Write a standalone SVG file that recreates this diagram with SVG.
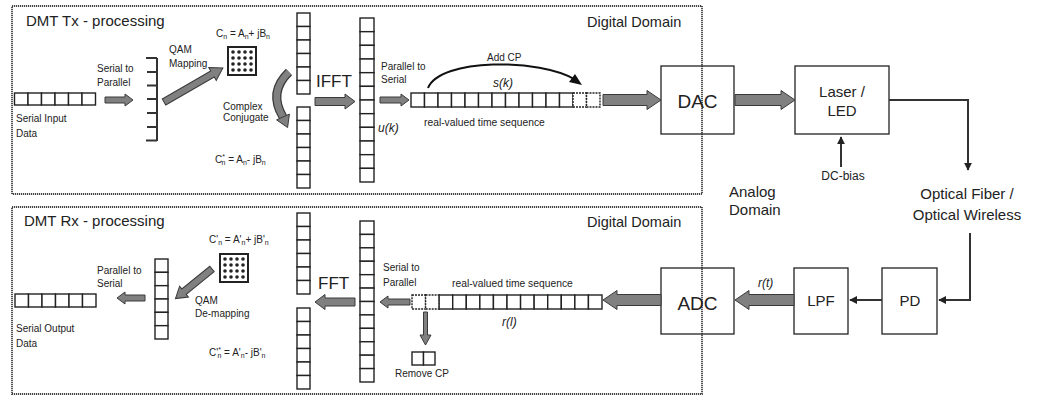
<svg xmlns="http://www.w3.org/2000/svg" xmlns:xlink="http://www.w3.org/1999/xlink" width="1039" height="396" viewBox="0 0 1039 396">
<style>
text{font-family:"Liberation Sans",Arial,sans-serif;fill:#222}
.t15{font-size:15px}
.t14{font-size:14.5px}
.s{font-size:10px}
.f{font-size:10px}
.it{font-size:12px;font-style:italic}
.big{font-size:19px}
.frame{fill:none;stroke:#444;stroke-width:1.8;stroke-dasharray:1.2 0.8}
.box{fill:none;stroke:#222;stroke-width:1.3}
.cell{fill:#fff;stroke:#222;stroke-width:1.4}
.dcell{fill:#fff;stroke:#222;stroke-width:1.4;stroke-dasharray:2 1}
.blk{fill:#808080;stroke:#3a3a3a;stroke-width:1}
.ln{fill:none;stroke:#333;stroke-width:2}
</style>
<defs>
<marker id="ah" viewBox="0 0 10 10" refX="9" refY="5" markerWidth="4" markerHeight="4" orient="auto" markerUnits="strokeWidth">
<path d="M0,0 L10,5 L0,10 z" fill="#222"/>
</marker>
<g id="const">
<rect x="0" y="0" width="28" height="28" fill="#fff" stroke="#222" stroke-width="2"/>
<g fill="#222">
<circle cx="5" cy="5" r="1.8"/><circle cx="11" cy="5" r="1.8"/><circle cx="17" cy="5" r="1.8"/><circle cx="23" cy="5" r="1.8"/>
<circle cx="5" cy="11" r="1.8"/><circle cx="11" cy="11" r="1.8"/><circle cx="17" cy="11" r="1.8"/><circle cx="23" cy="11" r="1.8"/>
<circle cx="5" cy="17" r="1.8"/><circle cx="11" cy="17" r="1.8"/><circle cx="17" cy="17" r="1.8"/><circle cx="23" cy="17" r="1.8"/>
<circle cx="5" cy="23" r="1.8"/><circle cx="11" cy="23" r="1.8"/><circle cx="17" cy="23" r="1.8"/><circle cx="23" cy="23" r="1.8"/>
</g>
</g>
</defs>

<!-- Frames -->
<g id="tx-frame">
<rect class="frame" x="12" y="6" width="690" height="188"/>
<text class="t15" x="26" y="26">DMT Tx - processing</text>
<text class="t14" x="587" y="27">Digital Domain</text>
</g>
<g id="rx-frame">
<rect class="frame" x="12" y="207" width="690" height="187"/>
<text class="t15" x="24" y="226">DMT Rx - processing</text>
<text class="t14" x="587" y="227">Digital Domain</text>
</g>

<!-- TX chain -->
<g id="serial-input">
<rect class="cell" x="14.5" y="93" width="13.5" height="12"/>
<rect class="cell" x="28" y="93" width="13.5" height="12"/>
<rect class="cell" x="41.5" y="93" width="13.5" height="12"/>
<rect class="cell" x="55" y="93" width="13.5" height="12"/>
<rect class="cell" x="68.5" y="93" width="13.5" height="12"/>
<rect class="cell" x="82" y="93" width="13.5" height="12"/>
<text class="s" x="16" y="122">Serial Input</text>
<text class="s" x="16" y="137">Data</text>
</g>
<g id="sp-bracket">
<path class="ln" d="M157,58 V141 M146,58 H157 M147,72 H157 M147,85.5 H157 M147,99 H157 M147,113 H157 M147,127 H157 M146,140.5 H157" stroke-width="1.6"/>
<text class="s" x="97" y="72">Serial to</text>
<text class="s" x="97" y="86">Parallel</text>
</g>
<g id="qam-map">
<use xlink:href="#const" x="228" y="47"/>
<text class="s" x="169" y="53">QAM</text>
<text class="s" x="169" y="67">Mapping</text>
<text class="f" x="216" y="37">C<tspan font-size="7" dy="2">n</tspan><tspan dy="-2"> = A</tspan><tspan font-size="7" dy="2">n</tspan><tspan dy="-2">+ jB</tspan><tspan font-size="7" dy="2">n</tspan></text>
</g>
<g id="tx-cols">
<rect class="cell" x="297" y="13" width="13" height="13.5"/>
<rect class="cell" x="297" y="26.5" width="13" height="13.5"/>
<rect class="cell" x="297" y="40" width="13" height="13.5"/>
<rect class="cell" x="297" y="53.5" width="13" height="13.5"/>
<rect class="cell" x="297" y="67" width="13" height="13.5"/>
<rect class="cell" x="297" y="80.5" width="13" height="13.5"/>
<rect class="cell" x="297" y="107" width="13" height="13.5"/>
<rect class="cell" x="297" y="120.5" width="13" height="13.5"/>
<rect class="cell" x="297" y="134" width="13" height="13.5"/>
<rect class="cell" x="297" y="147.5" width="13" height="13.5"/>
<rect class="cell" x="297" y="161" width="13" height="13.5"/>
<rect class="cell" x="297" y="174.5" width="13" height="13.5"/>
<text class="s" x="223" y="110">Complex</text>
<text class="s" x="223" y="121">Conjugate</text>
<text class="f" x="215" y="163">C<tspan font-size="7" dy="-4">*</tspan><tspan font-size="7" dx="-3.5" dy="6">n</tspan><tspan dy="-2"> = A</tspan><tspan font-size="7" dy="2">n</tspan><tspan dy="-2">- jB</tspan><tspan font-size="7" dy="2">n</tspan></text>
</g>
<g id="ifft">
<text x="316" y="87" style="font-size:17px">IFFT</text>
<rect class="cell" x="360" y="18" width="14" height="13.67"/>
<rect class="cell" x="360" y="31.67" width="14" height="13.67"/>
<rect class="cell" x="360" y="45.33" width="14" height="13.67"/>
<rect class="cell" x="360" y="59" width="14" height="13.67"/>
<rect class="cell" x="360" y="72.67" width="14" height="13.67"/>
<rect class="cell" x="360" y="86.33" width="14" height="13.67"/>
<rect class="cell" x="360" y="100" width="14" height="13.67"/>
<rect class="cell" x="360" y="113.67" width="14" height="13.67"/>
<rect class="cell" x="360" y="127.33" width="14" height="13.67"/>
<rect class="cell" x="360" y="141" width="14" height="13.67"/>
<rect class="cell" x="360" y="154.67" width="14" height="13.67"/>
<rect class="cell" x="360" y="168.33" width="14" height="13.67"/>
<text class="s" x="381" y="70">Parallel to</text>
<text class="s" x="381" y="83">Serial</text>
<text class="it" x="378" y="132">u(k)</text>
</g>
<g id="tx-seq">
<rect class="cell" x="411" y="93" width="13.5" height="14"/>
<rect class="cell" x="424.5" y="93" width="13.5" height="14"/>
<rect class="cell" x="438" y="93" width="13.5" height="14"/>
<rect class="cell" x="451.5" y="93" width="13.5" height="14"/>
<rect class="cell" x="465" y="93" width="13.5" height="14"/>
<rect class="cell" x="478.5" y="93" width="13.5" height="14"/>
<rect class="cell" x="492" y="93" width="13.5" height="14"/>
<rect class="cell" x="505.5" y="93" width="13.5" height="14"/>
<rect class="cell" x="519" y="93" width="13.5" height="14"/>
<rect class="cell" x="532.5" y="93" width="13.5" height="14"/>
<rect class="cell" x="546" y="93" width="13.5" height="14"/>
<rect class="cell" x="559.5" y="93" width="13.5" height="14"/>
<rect class="dcell" x="573" y="93" width="13.5" height="14"/>
<rect class="dcell" x="586.5" y="93" width="13.5" height="14"/>
<text class="s" x="487" y="61">Add CP</text>
<text class="it" x="493" y="87">s(k)</text>
<text x="424" y="126" style="font-size:10.3px">real-valued time sequence</text>
</g>
<g id="dac">
<rect class="box" x="661" y="66" width="73" height="68"/>
<text class="big" x="697.5" y="108" text-anchor="middle">DAC</text>
</g>
<g id="laser">
<rect class="box" x="795" y="66" width="94" height="68"/>
<text class="t15" x="842" y="97" text-anchor="middle">Laser /</text>
<text class="t15" x="842" y="116" text-anchor="middle">LED</text>
</g>
<g id="dc-bias">
<text x="843" y="180" text-anchor="middle" style="font-size:12px">DC-bias</text>
</g>
<g id="analog-label">
<text class="t15" x="729" y="197">Analog</text>
<text class="t15" x="729" y="215">Domain</text>
</g>
<g id="channel">
<text class="t15" x="967" y="199" text-anchor="middle">Optical Fiber /</text>
<text class="t15" x="967" y="220" text-anchor="middle">Optical Wireless</text>
</g>

<!-- RX chain -->
<g id="pd">
<rect class="box" x="882" y="268" width="55" height="66"/>
<text class="t15" x="910" y="306" text-anchor="middle">PD</text>
</g>
<g id="lpf">
<rect class="box" x="794" y="268" width="54" height="66"/>
<text class="t15" x="821" y="306" text-anchor="middle">LPF</text>
</g>
<g id="adc">
<rect class="box" x="661" y="268" width="73" height="66"/>
<text class="big" x="697.5" y="310" text-anchor="middle">ADC</text>
<text class="it" x="758" y="287">r(t)</text>
</g>
<g id="rx-seq">
<rect class="dcell" x="412" y="295" width="13.57" height="14"/>
<rect class="dcell" x="425.57" y="295" width="13.57" height="14"/>
<rect class="cell" x="439.14" y="295" width="13.57" height="14"/>
<rect class="cell" x="452.71" y="295" width="13.57" height="14"/>
<rect class="cell" x="466.29" y="295" width="13.57" height="14"/>
<rect class="cell" x="479.86" y="295" width="13.57" height="14"/>
<rect class="cell" x="493.43" y="295" width="13.57" height="14"/>
<rect class="cell" x="507" y="295" width="13.57" height="14"/>
<rect class="cell" x="520.57" y="295" width="13.57" height="14"/>
<rect class="cell" x="534.14" y="295" width="13.57" height="14"/>
<rect class="cell" x="547.71" y="295" width="13.57" height="14"/>
<rect class="cell" x="561.29" y="295" width="13.57" height="14"/>
<rect class="cell" x="574.86" y="295" width="13.57" height="14"/>
<rect class="cell" x="588.43" y="295" width="13.57" height="14"/>
<text x="452" y="287" style="font-size:10.3px">real-valued time sequence</text>
<text class="it" x="502" y="326">r(l)</text>
</g>
<g id="remove-cp">
<rect class="cell" x="412" y="352" width="11.5" height="13"/>
<rect class="cell" x="423.5" y="352" width="11.5" height="13"/>
<text class="s" x="395" y="377">Remove CP</text>
</g>
<g id="fft">
<rect class="cell" x="360" y="221" width="14" height="13.42"/>
<rect class="cell" x="360" y="234.42" width="14" height="13.42"/>
<rect class="cell" x="360" y="247.83" width="14" height="13.42"/>
<rect class="cell" x="360" y="261.25" width="14" height="13.42"/>
<rect class="cell" x="360" y="274.67" width="14" height="13.42"/>
<rect class="cell" x="360" y="288.08" width="14" height="13.42"/>
<rect class="cell" x="360" y="301.5" width="14" height="13.42"/>
<rect class="cell" x="360" y="314.92" width="14" height="13.42"/>
<rect class="cell" x="360" y="328.33" width="14" height="13.42"/>
<rect class="cell" x="360" y="341.75" width="14" height="13.42"/>
<rect class="cell" x="360" y="355.17" width="14" height="13.42"/>
<rect class="cell" x="360" y="368.58" width="14" height="13.42"/>
<text class="s" x="383" y="271">Serial to</text>
<text class="s" x="383" y="286">Parallel</text>
<text x="318" y="289" style="font-size:17px">FFT</text>
</g>
<g id="rx-cols">
<rect class="cell" x="297" y="213" width="13" height="13.5"/>
<rect class="cell" x="297" y="226.5" width="13" height="13.5"/>
<rect class="cell" x="297" y="240" width="13" height="13.5"/>
<rect class="cell" x="297" y="253.5" width="13" height="13.5"/>
<rect class="cell" x="297" y="267" width="13" height="13.5"/>
<rect class="cell" x="297" y="280.5" width="13" height="13.5"/>
<rect class="cell" x="297" y="308" width="13" height="13.5"/>
<rect class="cell" x="297" y="321.5" width="13" height="13.5"/>
<rect class="cell" x="297" y="335" width="13" height="13.5"/>
<rect class="cell" x="297" y="348.5" width="13" height="13.5"/>
<rect class="cell" x="297" y="362" width="13" height="13.5"/>
<rect class="cell" x="297" y="375.5" width="13" height="13.5"/>
<text class="f" x="209" y="243">C'<tspan font-size="7" dy="2">n</tspan><tspan dy="-2"> = A'</tspan><tspan font-size="7" dy="2">n</tspan><tspan dy="-2">+ jB'</tspan><tspan font-size="7" dy="2">n</tspan></text>
<text class="f" x="209" y="356">C'<tspan font-size="7" dy="-4">*</tspan><tspan font-size="7" dx="-3.5" dy="6">n</tspan><tspan dy="-2"> = A'</tspan><tspan font-size="7" dy="2">n</tspan><tspan dy="-2">- jB'</tspan><tspan font-size="7" dy="2">n</tspan></text>
</g>
<g id="qam-demap">
<use xlink:href="#const" x="220" y="254"/>
<text class="s" x="195" y="304">QAM</text>
<text class="s" x="195" y="317">De-mapping</text>
</g>
<g id="rx-ps">
<rect class="cell" x="155" y="259" width="13" height="13.33"/>
<rect class="cell" x="155" y="272.33" width="13" height="13.33"/>
<rect class="cell" x="155" y="285.67" width="13" height="13.33"/>
<rect class="cell" x="155" y="299" width="13" height="13.33"/>
<rect class="cell" x="155" y="312.33" width="13" height="13.33"/>
<rect class="cell" x="155" y="325.67" width="13" height="13.33"/>
<text class="s" x="97" y="274">Parallel to</text>
<text class="s" x="97" y="287">Serial</text>
</g>
<g id="serial-output">
<rect class="cell" x="15" y="294" width="13.5" height="13"/>
<rect class="cell" x="28.5" y="294" width="13.5" height="13"/>
<rect class="cell" x="42" y="294" width="13.5" height="13"/>
<rect class="cell" x="55.5" y="294" width="13.5" height="13"/>
<rect class="cell" x="69" y="294" width="13.5" height="13"/>
<rect class="cell" x="82.5" y="294" width="13.5" height="13"/>
<text class="s" x="16" y="332">Serial Output</text>
<text class="s" x="16" y="347">Data</text>
</g>

<!-- Connectors -->
<g id="connectors">
<polygon class="blk" points="105,97 125,97 125,94 133,100 125,106 125,103 105,103"/>
<polygon class="blk" transform="translate(164,102) rotate(-30)" points="0,-3.5 56,-3.5 56,-7.5 68,0 56,7.5 56,3.5 0,3.5"/>
<path d="M289,72 Q268,92 283,117" fill="none" stroke="#3a3a3a" stroke-width="9"/>
<path d="M289,72 Q268,92 283,117" fill="none" stroke="#808080" stroke-width="6.5"/>
<polygon class="blk" points="289.4,114.1 287.6,127.5 276.6,119.9"/>
<polygon class="blk" points="315,97.5 345,97.5 345,94 355,101.5 345,109 345,105.5 315,105.5"/>
<polygon class="blk" points="380,97 401,97 401,94 409,100 401,106 401,103 380,103"/>
<path d="M428,88 C440,58 540,58 576,80" fill="none" stroke="#111" stroke-width="2"/>
<polygon points="582,85 569,82 575,74" fill="#111"/>
<polygon class="blk" points="603,94.5 647,94.5 647,90.5 661,100 647,109.5 647,105.5 603,105.5"/>
<polygon class="blk" points="735,94.5 781,94.5 781,90.5 795,100 781,109.5 781,105.5 735,105.5"/>
<path class="ln" d="M889,100 H968 V170" marker-end="url(#ah)"/>
<path class="ln" d="M841,167 V137" stroke-width="2.5" marker-end="url(#ah)"/>
<path class="ln" d="M970,233 V300 H939" marker-end="url(#ah)"/>
<path class="ln" d="M882,300 H850" marker-end="url(#ah)"/>
<polygon class="blk" points="794,294.5 749,294.5 749,290.5 735,300 749,309.5 749,305.5 794,305.5"/>
<polygon class="blk" points="661,294.5 617,294.5 617,290.5 603,300 617,309.5 617,305.5 661,305.5"/>
<polygon class="blk" points="410,299 388,299 388,296 380,302 388,308 388,305 410,305"/>
<polygon class="blk" points="427.5,312 427.5,335 431,335 425.5,345 420,335 423.5,335 423.5,312"/>
<polygon class="blk" points="355,298 325,298 325,294.5 315,302 325,309.5 325,306 355,306"/>
<polygon class="blk" transform="translate(212,269) rotate(141)" points="0,-3.5 36,-3.5 36,-7 47,0 36,7 36,3.5 0,3.5"/>
<polygon class="blk" points="145,295 125,295 125,292 117,298 125,304 125,301 145,301"/>
</g>
</svg>
